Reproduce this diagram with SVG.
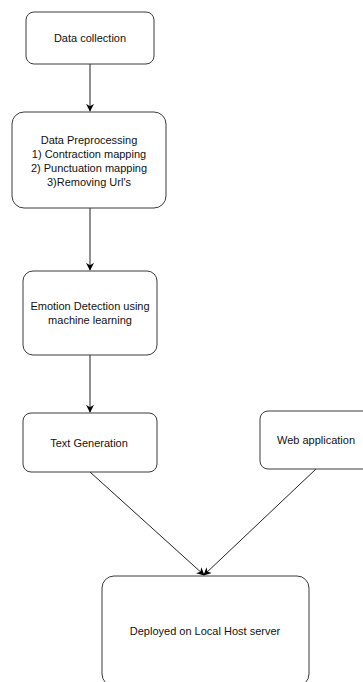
<svg xmlns="http://www.w3.org/2000/svg" width="363" height="682" viewBox="0 0 363 682">
<style>
.box{fill:#fff;stroke:#3a3a3a;stroke-width:1}
.lbl{font-family:"Liberation Sans",Arial,sans-serif;font-size:11px;fill:#111;text-anchor:middle;dominant-baseline:central}
.edge{stroke:#222;stroke-width:1;fill:none;marker-end:url(#arr)}
</style>
<defs>
<marker id="arr" viewBox="0 0 10 10" refX="9" refY="5" markerWidth="8" markerHeight="8" orient="auto" markerUnits="userSpaceOnUse">
<path d="M0,0 L10,5 L0,10 L3,5 Z" fill="#000"/>
</marker>
</defs>
<rect width="363" height="682" fill="#fff"/>
<g id="connectors">
<line class="edge" x1="90" y1="64" x2="90" y2="111"/>
<line class="edge" x1="90" y1="208" x2="90" y2="270"/>
<line class="edge" x1="90" y1="355" x2="90" y2="412"/>
<line class="edge" x1="90" y1="472" x2="204" y2="575"/>
<line class="edge" x1="316" y1="469" x2="204" y2="575"/>
</g>
<g id="data-collection">
<rect class="box" x="26" y="12" width="128" height="52" rx="8"/>
<text class="lbl" x="90" y="38">Data collection</text>
</g>
<g id="preprocessing">
<rect class="box" x="12" y="112" width="154" height="96" rx="12"/>
<text class="lbl" x="89" y="139.5">Data Preprocessing</text>
<text class="lbl" x="89" y="153.5">1) Contraction mapping</text>
<text class="lbl" x="89" y="167.5">2) Punctuation mapping</text>
<text class="lbl" x="89" y="181.5">3)Removing Url's</text>
</g>
<g id="emotion">
<rect class="box" x="23" y="271" width="134" height="84" rx="10"/>
<text class="lbl" x="90" y="306">Emotion Detection using</text>
<text class="lbl" x="90" y="319.5">machine learning</text>
</g>
<g id="text-generation">
<rect class="box" x="23" y="413" width="134" height="59" rx="8"/>
<text class="lbl" x="89" y="443">Text Generation</text>
</g>
<g id="web-application">
<rect class="box" x="260" y="411" width="112" height="58" rx="8"/>
<text class="lbl" x="316" y="440">Web application</text>
</g>
<g id="deployed">
<rect class="box" x="102" y="576" width="207" height="110" rx="12"/>
<text class="lbl" x="205" y="631">Deployed on Local Host server</text>
</g>
</svg>
